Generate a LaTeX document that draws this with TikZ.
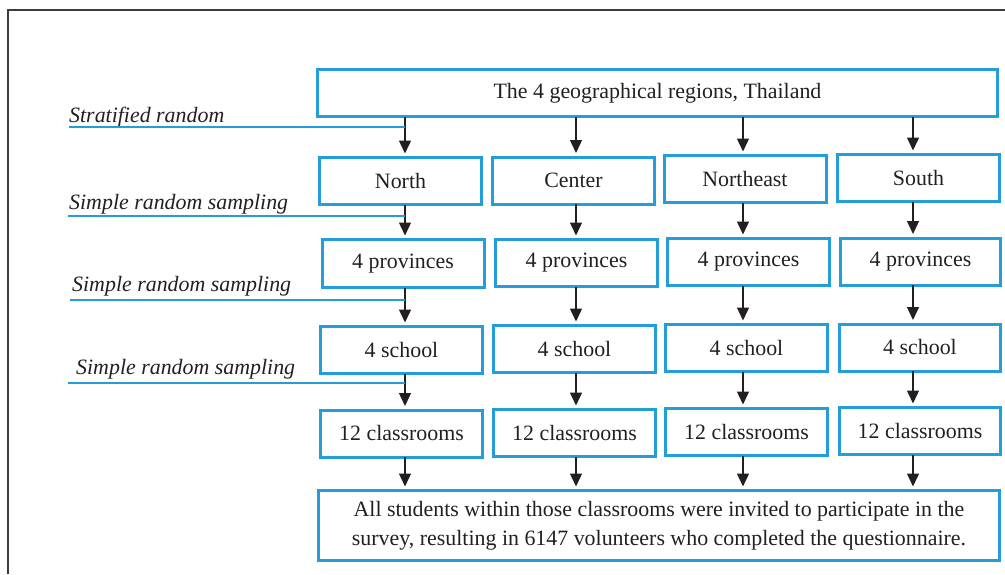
\documentclass[tikz,border=0pt]{standalone}
\usepackage{fontspec}
\setmainfont{Liberation Serif}
\usetikzlibrary{arrows.meta}
\definecolor{boxblue}{RGB}{35,158,218}
\definecolor{ink}{RGB}{35,31,32}
\definecolor{framegray}{RGB}{60,60,60}
\begin{document}
\begin{tikzpicture}[x=1pt,y=-1pt,
  bx/.style={draw=boxblue,line width=3pt,rectangle,inner sep=0pt,outer sep=0pt,
    minimum width=162pt,minimum height=47pt,text=ink,
    font=\fontsize{21.9}{26}\selectfont},
  arr/.style={draw=ink,line width=1.3pt,shorten >=4pt,
    -{Triangle[length=13pt,width=12pt]}},
  guide/.style={draw=boxblue,line width=1.2pt},
  lbl/.style={anchor=base west,inner sep=0pt,text=ink,
    font=\fontsize{21.9}{26}\selectfont\itshape}]
\useasboundingbox (0,0) rectangle (1005,574);

% outer frame (top and left sides)
\draw[framegray,line width=2pt] (8,574) -- (8,10) -- (1005,10);

% arrow columns
\coordinate (c1) at (405,0);
\coordinate (c2) at (576,0);
\coordinate (c3) at (743,0);
\coordinate (c4) at (913,0);

% top box
\node[bx,minimum width=680pt] (top) at (657.5,93) {The 4 geographical regions, Thailand};

% regions
\node[bx] (r1) at (400.5,181) {North};
\node[bx] (r2) at (573.5,180.5) {Center};
\node[bx] (r3) at (745,179) {Northeast};
\node[bx] (r4) at (918.5,178) {South};

% provinces
\node[bx,minimum height=48pt] (p1) at (403,263.5) {4 provinces};
\node[bx] (p2) at (576.5,263) {4 provinces};
\node[bx] (p3) at (748.5,262) {4 provinces};
\node[bx,minimum width=160pt] (p4) at (920.5,261.5) {4 provinces};

% schools
\node[bx] (s1) at (401.5,350) {4 school};
\node[bx] (s2) at (574.5,349) {4 school};
\node[bx] (s3) at (746.5,348) {4 school};
\node[bx,minimum width=161pt] (s4) at (920,347.5) {4 school};

% classrooms
\node[bx] (k1) at (401.5,433.5) {12 classrooms};
\node[bx] (k2) at (574.5,433) {12 classrooms};
\node[bx] (k3) at (746.5,432) {12 classrooms};
\node[bx,minimum width=161pt] (k4) at (920,431) {12 classrooms};

% final box
\node[bx,minimum width=681pt,minimum height=70pt,align=center,
  font=\fontsize{21.9}{29}\selectfont] (fin) at (659,525.5)
  {All students within those classrooms were invited to participate in the\\
   survey, resulting in 6147 volunteers who completed the questionnaire.};

% arrows
\foreach \c/\r in {c1/r1,c2/r2,c3/r3,c4/r4}
  \draw[arr] (top.south -| \c) -- (\r.north -| \c);
\foreach \c/\a/\b in {c1/r1/p1,c2/r2/p2,c3/r3/p3,c4/r4/p4,
                      c1/p1/s1,c2/p2/s2,c3/p3/s3,c4/p4/s4,
                      c1/s1/k1,c2/s2/k2,c3/s3/k3,c4/s4/k4,
                      c1/k1/fin,c2/k2/fin,c3/k3/fin,c4/k4/fin}
  \draw[arr] (\a.south -| \c) -- (\b.north -| \c);

% sampling labels with their guide lines
\node[lbl] (m1) at (69,122) {Stratified random};
\node[lbl] (m2) at (69,209) {Simple random sampling};
\node[lbl] (m3) at (72,291) {Simple random sampling};
\node[lbl] (m4) at (76,374) {Simple random sampling};
\coordinate (g1) at (69,127);
\coordinate (g2) at (68,216);
\coordinate (g3) at (70,300);
\coordinate (g4) at (68,383);
\foreach \g in {g1,g2,g3,g4}
  \draw[guide] (\g) -- (\g -| c1);
\end{tikzpicture}
\end{document}
